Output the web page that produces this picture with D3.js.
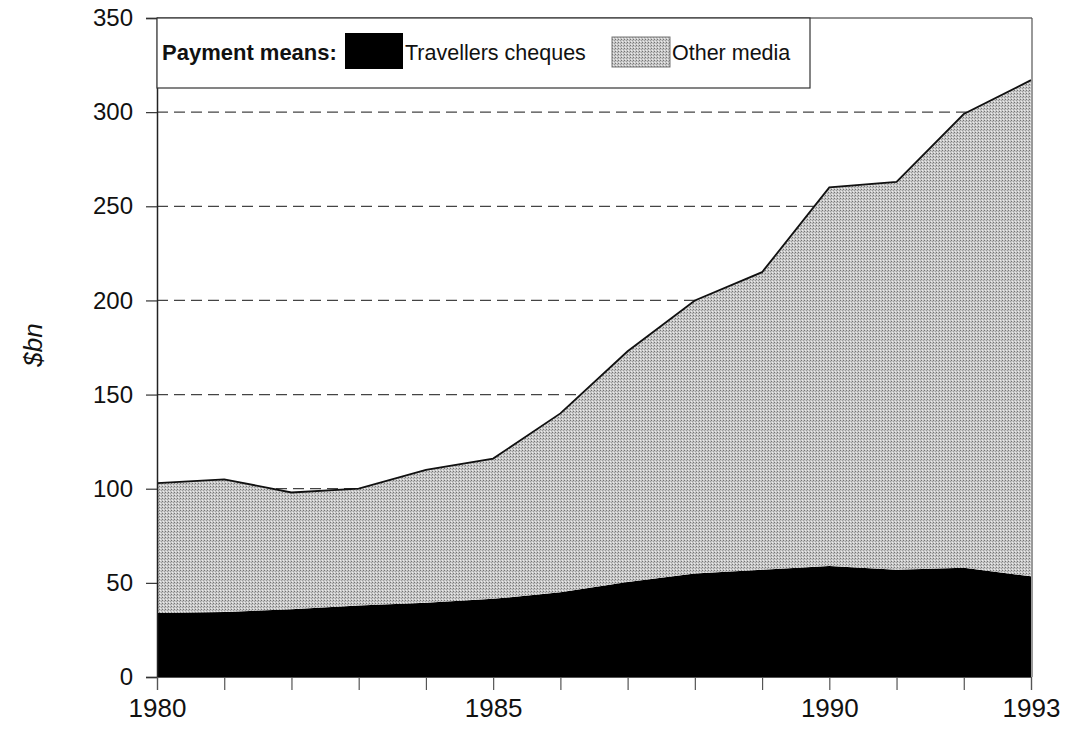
<!DOCTYPE html>
<html>
<head>
<meta charset="utf-8">
<script src="https://cdn.jsdelivr.net/npm/d3@7"></script>
<style>
  html, body { margin: 0; padding: 0; background: #fff; }
  svg { display: block; font-family: "Liberation Sans", Arial, sans-serif; }
</style>
</head>
<body>
<svg id="chart" width="1069" height="729"></svg>
<script>
// Annual payments by means, $bn
const years = [1980, 1981, 1982, 1983, 1984, 1985, 1986, 1987, 1988, 1989, 1990, 1991, 1992, 1993];
const travellersCheques = [34, 34.5, 36, 38, 39.5, 41.5, 45, 50.5, 55, 57, 59, 57, 58, 53.5];
const otherMedia = [69, 70.5, 62, 62, 70.5, 74.5, 95, 122.5, 145, 158, 201, 206, 241, 263.5];
const yTicks = [0, 50, 100, 150, 200, 250, 300, 350];
const gridValues = [50, 100, 150, 200, 250, 300];
const xLabelYears = [1980, 1985, 1990, 1993];
const seriesNames = ["Travellers cheques", "Other media"];

const svg = d3.select("#chart");
const plotL = 157, plotR = 1031, plotT = 18, plotB = 677;

const x = d3.scaleLinear().domain([1980, 1993]).range([plotL, plotR]);
const y = d3.scaleLinear().domain([0, 350]).range([plotB, plotT]);

// stippled grey fill for "Other media"
const defs = svg.append("defs");
const pat = defs.append("pattern")
  .attr("id", "stipple").attr("patternUnits", "userSpaceOnUse")
  .attr("width", 3).attr("height", 3);
pat.append("rect").attr("width", 3).attr("height", 3).attr("fill", "#c8c8c8");
pat.append("rect").attr("x", 0).attr("y", 0).attr("width", 1).attr("height", 1).attr("fill", "#747474");
pat.append("rect").attr("x", 2).attr("y", 1).attr("width", 1).attr("height", 1).attr("fill", "#9c9c9c");
pat.append("rect").attr("x", 1).attr("y", 2).attr("width", 1).attr("height", 1).attr("fill", "#ececec");

// dashed gridlines
svg.append("g").selectAll("line").data(gridValues).join("line")
  .attr("x1", plotL).attr("x2", plotR)
  .attr("y1", d => y(d)).attr("y2", d => y(d))
  .attr("stroke", "#444").attr("stroke-width", 1.2)
  .attr("stroke-dasharray", "11,6");

// stacked areas
const rows = years.map((yr, i) => ({ year: yr, tc: travellersCheques[i], other: otherMedia[i] }));
const stack = d3.stack().keys(["tc", "other"]);
const layers = stack(rows);
const area = d3.area()
  .x(d => x(d.data.year))
  .y0(d => y(d[0]))
  .y1(d => y(d[1]));
const fills = ["#000", "url(#stipple)"];
svg.append("g").selectAll("path").data(layers).join("path")
  .attr("d", area)
  .attr("fill", (d, i) => fills[i]);

// outline along the top of the total
const topLine = d3.line().x(d => x(d.data.year)).y(d => y(d[1]));
svg.append("path").datum(layers[1]).attr("d", topLine)
  .attr("fill", "none").attr("stroke", "#111").attr("stroke-width", 1.8);

// plot frame (top and right)
svg.append("line").attr("x1", plotL).attr("x2", plotR + 1).attr("y1", plotT).attr("y2", plotT)
  .attr("stroke", "#222").attr("stroke-width", 1.2);
svg.append("line").attr("x1", plotR + 1).attr("x2", plotR + 1).attr("y1", plotT).attr("y2", plotB)
  .attr("stroke", "#555").attr("stroke-width", 1.2);

// y axis
const yAxis = d3.axisLeft(y).tickValues(yTicks).tickSize(11).tickPadding(13);
const gy = svg.append("g").attr("transform", `translate(${plotL},0)`).call(yAxis);
gy.select(".domain").attr("stroke", "#222").attr("stroke-width", 1.5);
gy.selectAll(".tick line").attr("stroke", "#333").attr("stroke-width", 1.2);
gy.selectAll(".tick text").attr("font-size", 24).attr("fill", "#111")
  .attr("font-family", "Liberation Sans, Arial, sans-serif");

// x axis: a tick every year, labels on selected years
const xAxis = d3.axisBottom(x).tickValues(years).tickSize(13).tickPadding(9)
  .tickFormat(d => xLabelYears.includes(d) ? d3.format("d")(d) : "");
const gx = svg.append("g").attr("transform", `translate(0,${plotB})`).call(xAxis);
gx.select(".domain").attr("stroke", "#555").attr("stroke-width", 1.2);
gx.selectAll(".tick line").attr("stroke", "#555").attr("stroke-width", 1.2);
gx.selectAll(".tick text").attr("font-size", 26).attr("fill", "#111")
  .attr("font-family", "Liberation Sans, Arial, sans-serif");

// y axis title
svg.append("text")
  .attr("transform", "translate(42,345) rotate(-90)")
  .attr("text-anchor", "middle")
  .attr("font-size", 26).attr("font-style", "italic").attr("fill", "#111")
  .text("$bn");

// legend
const lg = svg.append("g");
lg.append("rect").attr("x", plotL).attr("y", plotT).attr("width", 653).attr("height", 70)
  .attr("fill", "#fff").attr("stroke", "#333").attr("stroke-width", 1.2);
lg.append("text").attr("x", 162).attr("y", 60).attr("font-size", 22).attr("font-weight", "bold")
  .attr("fill", "#111").text("Payment means:");
lg.append("rect").attr("x", 345).attr("y", 33).attr("width", 58).attr("height", 36).attr("fill", "#000");
lg.append("text").attr("x", 405).attr("y", 60).attr("font-size", 21.5).attr("fill", "#111").text(seriesNames[0]);
lg.append("rect").attr("x", 612).attr("y", 37).attr("width", 58).attr("height", 30)
  .attr("fill", "url(#stipple)").attr("stroke", "#777").attr("stroke-width", 1);
lg.append("text").attr("x", 672).attr("y", 60).attr("font-size", 21.5).attr("fill", "#111").text(seriesNames[1]);
</script>
</body>
</html>
